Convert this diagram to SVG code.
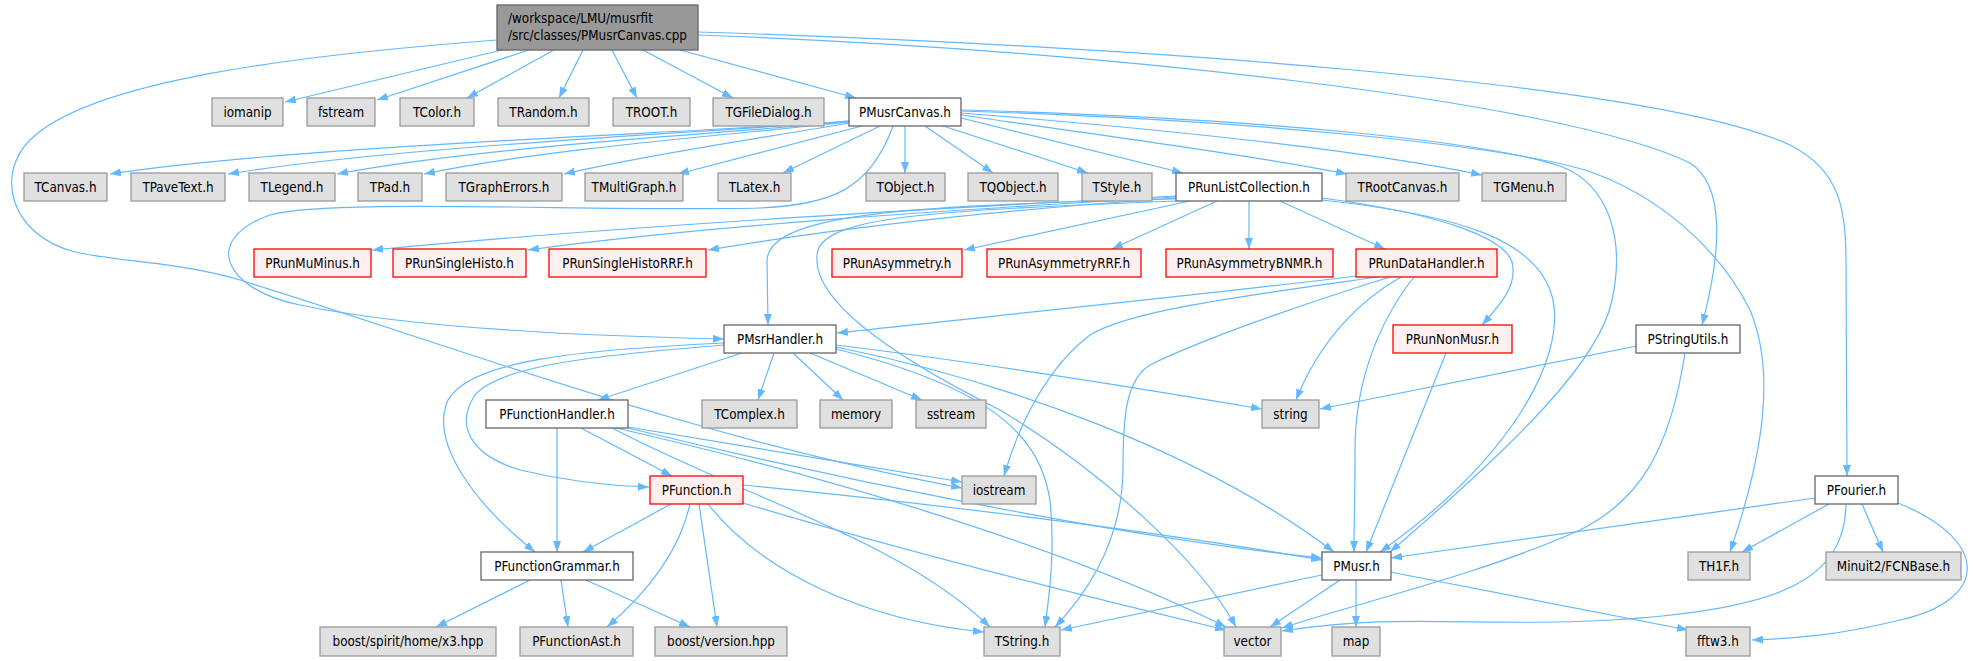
<svg xmlns="http://www.w3.org/2000/svg" width="1986" height="661" viewBox="0 0 1986 661">
<defs>
<marker id="arr" viewBox="0 0 11 8" refX="11" refY="4" markerWidth="11" markerHeight="8" markerUnits="userSpaceOnUse" orient="auto"><path d="M0,0 L11,4 L0,8 z" fill="#63b8ff"/></marker>
<style>
.e path{fill:none;stroke:#63b8ff;stroke-width:1.2;marker-end:url(#arr)}
text{font-family:"DejaVu Sans Condensed","DejaVu Sans",sans-serif;font-stretch:condensed;font-size:13.33px;fill:#000}
.g rect{fill:#e0e0e0;stroke:#999999;stroke-width:1.3}
.w rect{fill:#ffffff;stroke:#666666;stroke-width:1.3}
.r rect{fill:#fff0f0;stroke:#ff0000;stroke-width:1.3}
.n text{text-anchor:middle}
</style>
</defs>
<rect width="1986" height="661" fill="#ffffff"/>
<g class="e" id="edges">
<path d="M502,50 L285,102"/>
<path d="M529,50 L377,100"/>
<path d="M554,50 L467,98"/>
<path d="M583,50 L559,98"/>
<path d="M612,50 L637,98"/>
<path d="M643,50 L733,98"/>
<path d="M680,50 L856,98"/>
<path d="M497,40 C300,55 90,80 30,140 C-5,175 10,235 75,252 C120,262 180,262 240,280 C450,345 700,440 962,488"/>
<path d="M698,32 C1100,45 1650,80 1790,145 C1840,170 1846,210 1846,260 L1847,476"/>
<path d="M698,35 C1100,50 1560,100 1690,163 C1725,185 1722,250 1702,325"/>
<path d="M849,121 C700,133 300,145 110,174"/>
<path d="M849,121 C700,133 400,146 228,174"/>
<path d="M849,122 C710,134 480,147 337,174"/>
<path d="M849,122 C730,135 550,148 424,174"/>
<path d="M849,123 C770,137 660,152 564,174"/>
<path d="M862,126 L678,174"/>
<path d="M880,126 L783,173"/>
<path d="M905,126 L905,173"/>
<path d="M925,126 L993,173"/>
<path d="M943,126 L1088,173"/>
<path d="M961,118 L1183,173"/>
<path d="M961,115 C1100,135 1250,155 1347,174"/>
<path d="M961,113 C1150,128 1350,148 1482,175"/>
<path d="M893,126 C870,190 830,205 760,208 C600,212 330,198 270,215 C200,240 225,290 300,305 C420,330 600,336 724,339"/>
<path d="M961,111 C1250,120 1500,145 1585,170 C1660,195 1720,250 1750,310 C1775,370 1765,450 1730,552"/>
<path d="M961,110 C1250,118 1480,140 1560,166 C1610,185 1625,240 1612,300 C1600,360 1520,440 1390,552"/>
<path d="M1176,196 C900,210 600,228 372,250"/>
<path d="M1176,197 C950,210 700,226 528,250"/>
<path d="M1176,198 C1000,210 850,226 708,250"/>
<path d="M1190,201 L964,250"/>
<path d="M1217,201 L1112,249"/>
<path d="M1249,201 L1249,249"/>
<path d="M1280,201 L1385,249"/>
<path d="M1322,198 C1450,215 1505,240 1512,262 C1518,285 1500,305 1482,325"/>
<path d="M1322,200 C1460,215 1540,240 1553,300 C1565,360 1510,460 1380,552"/>
<path d="M1176,199 C900,205 770,215 767,260 L768,325"/>
<path d="M1176,201 C950,210 830,215 818,250 C805,300 900,360 1000,410 C1100,470 1200,560 1236,627"/>
<path d="M1357,276 C1200,295 1000,315 837,333"/>
<path d="M1378,277 C1250,295 1130,310 1090,335 C1050,365 1020,420 1004,476"/>
<path d="M1401,277 C1360,300 1320,340 1296,400"/>
<path d="M1390,277 C1300,305 1200,340 1150,365 C1125,380 1123,420 1123,470 C1122,540 1090,590 1055,627"/>
<path d="M1414,277 C1380,320 1355,380 1355,450 C1355,500 1354,520 1354,552"/>
<path d="M1446,353 L1366,552"/>
<path d="M1637,346 L1320,409"/>
<path d="M1685,353 C1670,450 1640,500 1580,530 C1480,575 1350,605 1282,628"/>
<path d="M774,353 L758,400"/>
<path d="M793,353 L843,400"/>
<path d="M810,353 L922,400"/>
<path d="M836,345 C1000,365 1150,390 1262,409"/>
<path d="M836,347 C1000,380 1200,450 1334,552"/>
<path d="M836,349 C1000,390 1040,440 1050,500 C1055,550 1050,590 1045,627"/>
<path d="M742,353 L598,400"/>
<path d="M724,345 C600,355 500,365 475,395 C455,425 470,455 520,470 C570,482 610,486 649,487"/>
<path d="M724,343 C580,350 470,360 448,400 C430,440 470,500 535,552"/>
<path d="M557,428 L557,552"/>
<path d="M581,428 L672,476"/>
<path d="M628,427 L962,482"/>
<path d="M612,428 C750,500 900,540 990,627"/>
<path d="M616,428 C800,470 1050,540 1226,627"/>
<path d="M628,428 C800,470 1100,535 1322,558"/>
<path d="M671,504 L583,552"/>
<path d="M690,504 C680,550 650,590 607,627"/>
<path d="M699,504 L717,627"/>
<path d="M708,504 C760,570 860,620 984,632"/>
<path d="M743,503 C900,550 1100,600 1226,630"/>
<path d="M743,485 C900,500 1150,530 1322,560"/>
<path d="M530,580 L436,627"/>
<path d="M561,580 L568,627"/>
<path d="M586,580 L690,627"/>
<path d="M1322,575 L1061,630"/>
<path d="M1340,580 L1270,627"/>
<path d="M1356,580 L1356,627"/>
<path d="M1390,572 L1688,630"/>
<path d="M1815,498 L1391,558"/>
<path d="M1829,504 L1742,552"/>
<path d="M1862,504 L1883,552"/>
<path d="M1846,504 C1845,580 1780,610 1611,620 C1480,628 1400,612 1282,631"/>
<path d="M1898,503 C1990,540 1990,600 1900,620 C1840,635 1800,638 1752,640"/>
</g>
<g id="n_root"><rect x="497" y="5" width="201" height="45" fill="#999999" stroke="#666666" stroke-width="1.3"/><text x="508" y="23">/workspace/LMU/musrfit</text><text x="508" y="40">/src/classes/PMusrCanvas.cpp</text></g>
<g class="n g" id="n_iomanip"><rect x="212" y="98" width="71" height="28"/><text x="247.5" y="116.5">iomanip</text></g>
<g class="n g" id="n_fstream"><rect x="307" y="98" width="68" height="28"/><text x="341" y="116.5">fstream</text></g>
<g class="n g" id="n_TColor"><rect x="400" y="98" width="74" height="28"/><text x="437" y="116.5">TColor.h</text></g>
<g class="n g" id="n_TRandom"><rect x="498" y="98" width="91" height="28"/><text x="543.5" y="116.5">TRandom.h</text></g>
<g class="n g" id="n_TROOT"><rect x="613" y="98" width="77" height="28"/><text x="651.5" y="116.5">TROOT.h</text></g>
<g class="n g" id="n_TGFileDialog"><rect x="713" y="98" width="111" height="28"/><text x="768.5" y="116.5">TGFileDialog.h</text></g>
<g class="n w" id="n_PMusrCanvas"><rect x="849" y="98" width="112" height="28"/><text x="905" y="116.5">PMusrCanvas.h</text></g>
<g class="n g" id="n_TCanvas"><rect x="24" y="173" width="83" height="28"/><text x="65.5" y="191.5">TCanvas.h</text></g>
<g class="n g" id="n_TPaveText"><rect x="131" y="173" width="94" height="28"/><text x="178" y="191.5">TPaveText.h</text></g>
<g class="n g" id="n_TLegend"><rect x="249" y="173" width="86" height="28"/><text x="292" y="191.5">TLegend.h</text></g>
<g class="n g" id="n_TPad"><rect x="358" y="173" width="64" height="28"/><text x="390" y="191.5">TPad.h</text></g>
<g class="n g" id="n_TGraphErrors"><rect x="446" y="173" width="116" height="28"/><text x="504" y="191.5">TGraphErrors.h</text></g>
<g class="n g" id="n_TMultiGraph"><rect x="585" y="173" width="98" height="28"/><text x="634" y="191.5">TMultiGraph.h</text></g>
<g class="n g" id="n_TLatex"><rect x="718" y="173" width="73" height="28"/><text x="754.5" y="191.5">TLatex.h</text></g>
<g class="n g" id="n_TObject"><rect x="866" y="173" width="79" height="28"/><text x="905.5" y="191.5">TObject.h</text></g>
<g class="n g" id="n_TQObject"><rect x="968" y="173" width="90" height="28"/><text x="1013" y="191.5">TQObject.h</text></g>
<g class="n g" id="n_TStyle"><rect x="1082" y="173" width="70" height="28"/><text x="1117" y="191.5">TStyle.h</text></g>
<g class="n w" id="n_PRunListCollection"><rect x="1176" y="173" width="146" height="28"/><text x="1249" y="191.5">PRunListCollection.h</text></g>
<g class="n g" id="n_TRootCanvas"><rect x="1346" y="173" width="113" height="28"/><text x="1402.5" y="191.5">TRootCanvas.h</text></g>
<g class="n g" id="n_TGMenu"><rect x="1482" y="173" width="84" height="28"/><text x="1524" y="191.5">TGMenu.h</text></g>
<g class="n r" id="n_PRunMuMinus"><rect x="254" y="249" width="117" height="28"/><text x="312.5" y="267.5">PRunMuMinus.h</text></g>
<g class="n r" id="n_PRunSingleHisto"><rect x="393" y="249" width="133" height="28"/><text x="459.5" y="267.5">PRunSingleHisto.h</text></g>
<g class="n r" id="n_PRunSingleHistoRRF"><rect x="549" y="249" width="157" height="28"/><text x="627.5" y="267.5">PRunSingleHistoRRF.h</text></g>
<g class="n r" id="n_PRunAsymmetry"><rect x="832" y="249" width="130" height="28"/><text x="897" y="267.5">PRunAsymmetry.h</text></g>
<g class="n r" id="n_PRunAsymmetryRRF"><rect x="987" y="249" width="154" height="28"/><text x="1064" y="267.5">PRunAsymmetryRRF.h</text></g>
<g class="n r" id="n_PRunAsymmetryBNMR"><rect x="1166" y="249" width="167" height="28"/><text x="1249.5" y="267.5">PRunAsymmetryBNMR.h</text></g>
<g class="n r" id="n_PRunDataHandler"><rect x="1356" y="249" width="141" height="28"/><text x="1426.5" y="267.5">PRunDataHandler.h</text></g>
<g class="n w" id="n_PMsrHandler"><rect x="724" y="325" width="112" height="28"/><text x="780" y="343.5">PMsrHandler.h</text></g>
<g class="n r" id="n_PRunNonMusr"><rect x="1393" y="325" width="119" height="28"/><text x="1452.5" y="343.5">PRunNonMusr.h</text></g>
<g class="n w" id="n_PStringUtils"><rect x="1636" y="325" width="104" height="28"/><text x="1688" y="343.5">PStringUtils.h</text></g>
<g class="n w" id="n_PFunctionHandler"><rect x="486" y="400" width="142" height="28"/><text x="557" y="418.5">PFunctionHandler.h</text></g>
<g class="n g" id="n_TComplex"><rect x="702" y="400" width="95" height="28"/><text x="749.5" y="418.5">TComplex.h</text></g>
<g class="n g" id="n_memory"><rect x="820" y="400" width="72" height="28"/><text x="856" y="418.5">memory</text></g>
<g class="n g" id="n_sstream"><rect x="916" y="400" width="70" height="28"/><text x="951" y="418.5">sstream</text></g>
<g class="n g" id="n_string"><rect x="1262" y="400" width="57" height="28"/><text x="1290.5" y="418.5">string</text></g>
<g class="n r" id="n_PFunction"><rect x="650" y="476" width="93" height="28"/><text x="696.5" y="494.5">PFunction.h</text></g>
<g class="n g" id="n_iostream"><rect x="962" y="476" width="74" height="28"/><text x="999" y="494.5">iostream</text></g>
<g class="n w" id="n_PFourier"><rect x="1815" y="476" width="83" height="28"/><text x="1856.5" y="494.5">PFourier.h</text></g>
<g class="n w" id="n_PFunctionGrammar"><rect x="481" y="552" width="152" height="28"/><text x="557" y="570.5">PFunctionGrammar.h</text></g>
<g class="n w" id="n_PMusr"><rect x="1322" y="552" width="69" height="28"/><text x="1356.5" y="570.5">PMusr.h</text></g>
<g class="n g" id="n_TH1F"><rect x="1688" y="552" width="62" height="28"/><text x="1719" y="570.5">TH1F.h</text></g>
<g class="n g" id="n_FCNBase"><rect x="1826" y="552" width="135" height="28"/><text x="1893.5" y="570.5">Minuit2/FCNBase.h</text></g>
<g class="n g" id="n_x3"><rect x="320" y="627" width="176" height="29"/><text x="408" y="646">boost/spirit/home/x3.hpp</text></g>
<g class="n g" id="n_PFunctionAst"><rect x="520" y="627" width="113" height="29"/><text x="576.5" y="646">PFunctionAst.h</text></g>
<g class="n g" id="n_version"><rect x="655" y="627" width="132" height="29"/><text x="721" y="646">boost/version.hpp</text></g>
<g class="n g" id="n_TString"><rect x="984" y="627" width="76" height="29"/><text x="1022" y="646">TString.h</text></g>
<g class="n g" id="n_vector"><rect x="1224" y="627" width="57" height="29"/><text x="1252.5" y="646">vector</text></g>
<g class="n g" id="n_map"><rect x="1332" y="627" width="48" height="29"/><text x="1356" y="646">map</text></g>
<g class="n g" id="n_fftw3"><rect x="1686" y="627" width="64" height="29"/><text x="1718" y="646">fftw3.h</text></g>
</svg>
